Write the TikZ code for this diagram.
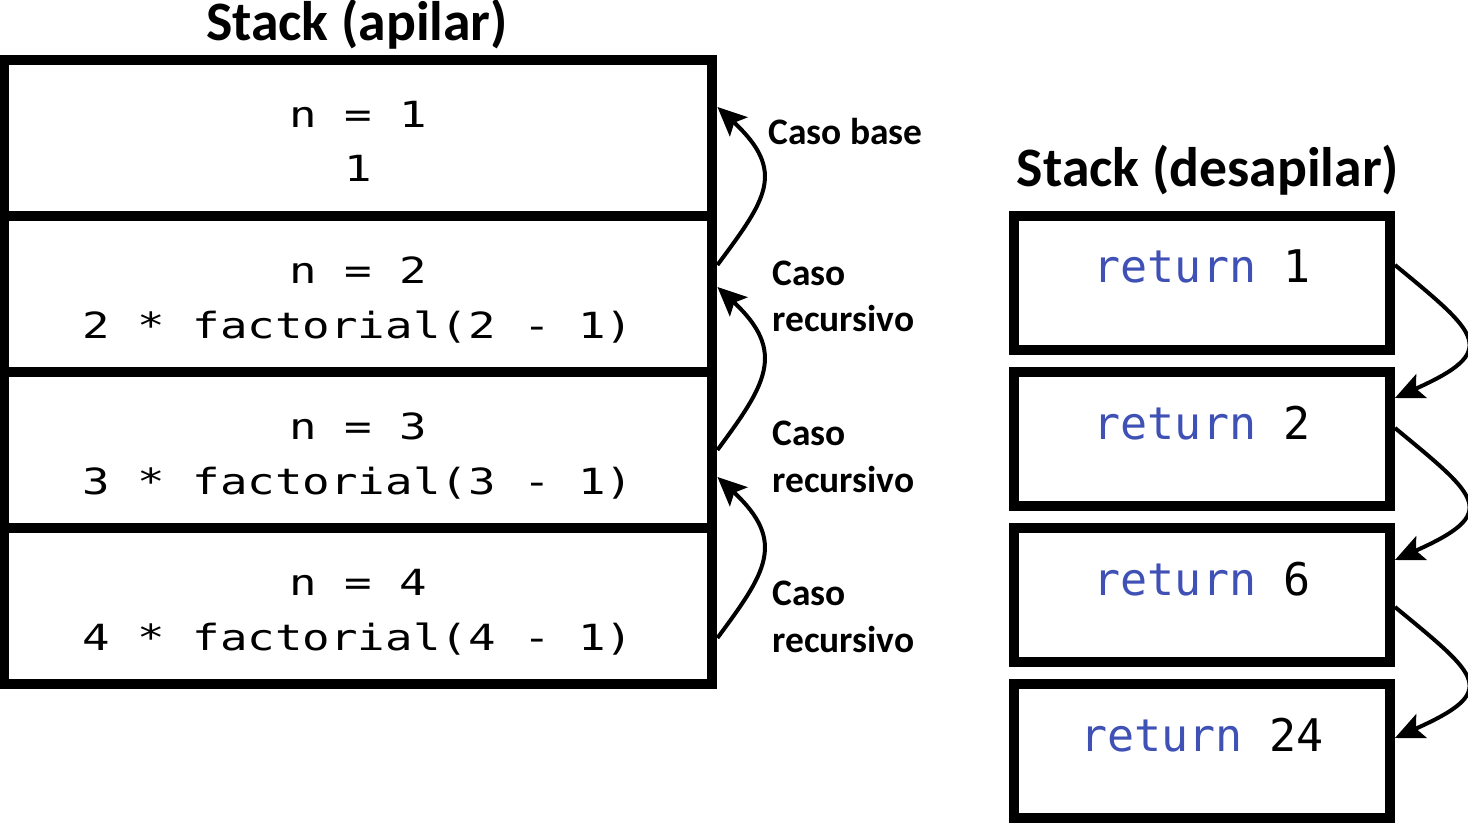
\documentclass[tikz,border=0pt]{standalone}
\usepackage{fontspec}
\setmainfont{Carlito}
\newfontfamily\leftcode{DejaVu Sans Mono}[FakeStretch=1.27]
\newfontfamily\rightcode{DejaVu Sans Mono}
\usetikzlibrary{arrows.meta}
\definecolor{kwblue}{RGB}{63,81,181}
\begin{document}
\begin{tikzpicture}[x=0.02cm,y=-0.02cm,
  framebox/.style={draw, line width=0.2cm, outer sep=0pt, inner sep=0pt, minimum width=14.18cm, minimum height=3.12cm},
  retbox/.style={draw, line width=0.2cm, outer sep=0pt, inner sep=0pt, minimum width=7.52cm, minimum height=2.68cm},
  codetext/.style={inner sep=0pt, anchor=base, align=center, font=\leftcode\fontsize{20.5}{31.3}\selectfont},
  rettext/.style={inner sep=0pt, anchor=base, font=\rightcode\fontsize{25.6}{30}\selectfont},
  lbl/.style={inner sep=0pt, anchor=base west, align=left, font=\bfseries\fontsize{21.3}{26.7}\selectfont},
  ttl/.style={inner sep=0pt, anchor=base, font=\bfseries\fontsize{31.7}{38}\selectfont},
  flow/.style={line width=0.08cm, -{Stealth[length=0.58cm,width=0.52cm,inset=0.12cm]}}
]
\useasboundingbox (0,0) rectangle (1468,824);

% titles
\node[ttl] (title1) at (357,41) {Stack (apilar)};
\node[ttl] (title2) at (1208,187) {Stack (desapilar)};

% left stack
\node[framebox] (L1) at (358,138) {};
\node[framebox] (L2) at (358,294) {};
\node[framebox] (L3) at (358,450) {};
\node[framebox] (L4) at (358,606) {};
\node[codetext] (t1) at (358,182) {n = 1\\1};
\node[codetext] (t2) at (358,338) {n = 2\\2 * factorial(2 - 1)};
\node[codetext] (t3) at (358,494) {n = 3\\3 * factorial(3 - 1)};
\node[codetext] (t4) at (358,650) {n = 4\\4 * factorial(4 - 1)};

% right stack
\node[retbox] (R1) at (1202,283) {};
\node[retbox] (R2) at (1202,439) {};
\node[retbox] (R3) at (1202,595) {};
\node[retbox] (R4) at (1202,751) {};
\node[rettext] (r1) at (1202,283) {\textcolor{kwblue}{return} 1};
\node[rettext] (r2) at (1202,439) {\textcolor{kwblue}{return} 2};
\node[rettext] (r3) at (1202,595) {\textcolor{kwblue}{return} 6};
\node[rettext] (r4) at (1202,751) {\textcolor{kwblue}{return} 24};

% labels
\node[lbl] (c0) at (768,145) {Caso base};
\node[lbl] (c1) at (772,332) {Caso\\recursivo};
\node[lbl] (c2) at (772,492) {Caso\\recursivo};
\node[lbl] (c3) at (772,652) {Caso\\recursivo};

% left arrows (upwards)
\draw[flow] ([shift={(0.1cm,-0.98cm)}]L2.north east) .. controls +(48,-65) and +(70,65) .. ([shift={(0.1cm,-0.94cm)}]L1.north east);
\draw[flow] ([shift={(0.1cm,-1.56cm)}]L3.north east) .. controls +(48,-65) and +(70,65) .. ([shift={(0.1cm,-1.42cm)}]L2.north east);
\draw[flow] ([shift={(0.1cm,-2.2cm)}]L4.north east) .. controls +(48,-65) and +(70,65) .. ([shift={(0.1cm,-2.1cm)}]L3.north east);

% right arrows (downwards)
\draw[flow] ([shift={(0.1cm,-0.98cm)}]R1.north east) .. controls +(85,70) and +(105,-47) .. ([shift={(0.1cm,-0.52cm)}]R2.north east);
\draw[flow] ([shift={(0.1cm,-1.12cm)}]R2.north east) .. controls +(85,70) and +(105,-47) .. ([shift={(0.1cm,-0.64cm)}]R3.north east);
\draw[flow] ([shift={(0.1cm,-1.58cm)}]R3.north east) .. controls +(85,70) and +(105,-47) .. ([shift={(0.1cm,-1.08cm)}]R4.north east);
\end{tikzpicture}
\end{document}
